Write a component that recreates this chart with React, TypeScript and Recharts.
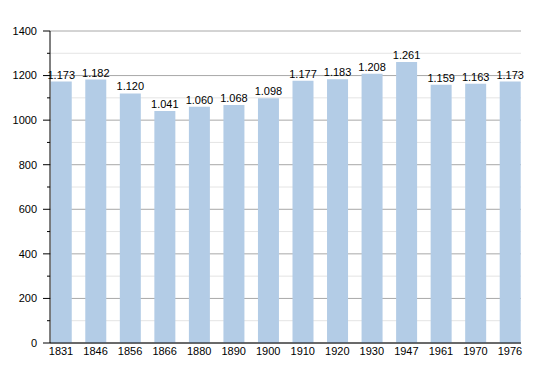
import { Bar, BarChart, CartesianGrid, LabelList, XAxis, YAxis } from "recharts";

const years = ["1831", "1846", "1856", "1866", "1880", "1890", "1900", "1910", "1920", "1930", "1947", "1961", "1970", "1976"];
const population = [1173, 1182, 1120, 1041, 1060, 1068, 1098, 1177, 1183, 1208, 1261, 1159, 1163, 1173];
const yTicks = [0, 100, 200, 300, 400, 500, 600, 700, 800, 900, 1000, 1100, 1200, 1300, 1400];

const data = years.map((year, idx) => ({ idx, year, value: population[idx] }));
const xTicks = data.map((d) => d.idx);

const formatValue = (v: number) => {
  const s = String(v);
  return s.length > 3 ? s.slice(0, s.length - 3) + "." + s.slice(-3) : s;
};

const YTick = (props: any) => {
  const { x, y, payload } = props;
  const major = payload.value % 200 === 0;
  return (
    <g>
      <line x1={x + (major ? 6 : 10)} x2={x + 13} y1={y} y2={y} stroke="#000" strokeWidth={1} />
      {major && (
        <text x={x} y={y} dy="0.35em" textAnchor="end" fontSize={11} fill="#000">
          {payload.value}
        </text>
      )}
    </g>
  );
};

const GridLine = (props: any) => {
  const { x1, x2, y1, y2, index } = props;
  const major = index % 2 === 0;
  return <line x1={x1} x2={x2} y1={y1} y2={y2} stroke={major ? "#a8a8a8" : "#e4e4e4"} strokeWidth={1} />;
};

export default function App() {
  return (
    <div style={{ position: "absolute", left: 0, top: 0, fontFamily: "'Liberation Sans', Arial, sans-serif" }}>
      <BarChart width={550} height={373} data={data} margin={{ top: 31, right: 29, bottom: 0, left: 0 }}>
        <CartesianGrid vertical={false} horizontal={GridLine} />
        <XAxis
          dataKey="idx"
          type="number"
          domain={[-0.319, 13.319]}
          ticks={xTicks}
          tickFormatter={(i: number) => years[i]}
          interval={0}
          height={30}
          tickLine={false}
          tickSize={0}
          tickMargin={4}
          axisLine={{ stroke: "#000" }}
          tick={{ fontSize: 11, fill: "#000" }}
        />
        <YAxis
          domain={[0, 1400]}
          ticks={yTicks}
          interval={0}
          width={50}
          tickSize={7}
          tickMargin={6}
          tickLine={false}
          axisLine={{ stroke: "#000" }}
          tick={<YTick />}
        />
        <Bar dataKey="value" fill="#b3cce6" barSize={21} isAnimationActive={false}>
          <LabelList dataKey="value" position="top" offset={3} formatter={formatValue} fontSize={11} fill="#000" />
        </Bar>
      </BarChart>
    </div>
  );
}
